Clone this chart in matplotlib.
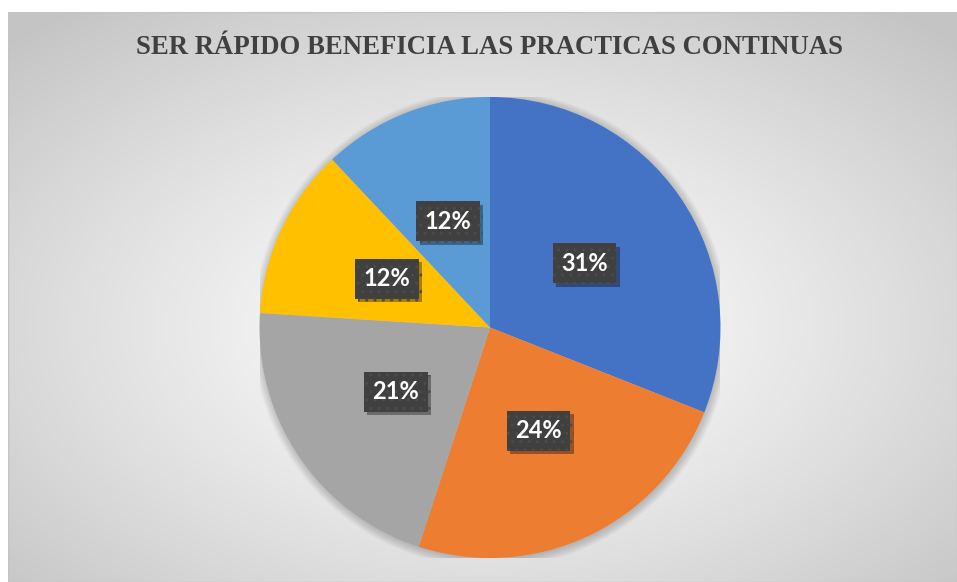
import numpy as np
import matplotlib
matplotlib.use("Agg")
import matplotlib.pyplot as plt
from matplotlib.patches import Circle, Rectangle
import matplotlib.patheffects as pe

title = "SER RÁPIDO BENEFICIA LAS PRACTICAS CONTINUAS"
values = [31, 24, 21, 12, 12]
colors = ["#4472C4", "#ED7D31", "#A5A5A5", "#FFC000", "#5B9BD5"]

W, H = 957, 582
fig = plt.figure(figsize=(W / 100, H / 100), dpi=100)
fig.patch.set_facecolor("white")

# background chart area with radial gradient
bx0, by0 = 8, 12  # left, top in px
bg = fig.add_axes([bx0 / W, 0, (W - bx0) / W, (H - by0) / H])
bg.set_axis_off()
ny, nx = 300, 500
yy, xx = np.mgrid[0:ny, 0:nx]
cx, cy = 0.50 * nx, 0.55 * ny
d = np.sqrt(((xx - cx) / (nx * 0.5)) ** 2 + ((yy - cy) / (ny * 0.5)) ** 2) / np.sqrt(2)
d = np.clip(d, 0, 1)
lo, hi = 1.0, 0.77
val = lo + (hi - lo) * d ** 1.2
img = np.dstack([val, val, val])
bg.imshow(img, extent=[0, 1, 0, 1], aspect="auto", origin="upper", interpolation="bilinear")
bg.set_xlim(0, 1)
bg.set_ylim(0, 1)
bg.add_patch(Rectangle((0, 0), 1, 1, fill=False, edgecolor="#c4c4c4", lw=1.0, transform=bg.transAxes))

fig.text(489 / W, 1 - 47 / H, title, ha="center", va="center",
         fontfamily="Liberation Serif", fontweight="bold", fontsize=19.3, color="#404040")

# pie axes
pcx, pcy, R = 490, 582 - 327.5, 230.5
ax = fig.add_axes([(pcx - R) / W, (pcy - R) / H, 2 * R / W, 2 * R / H])
ax.set_axis_off()

# soft shadow
for i in range(10):
    ax.add_patch(Circle((0.004, -0.006), 1 + 0.004 * i, color="#000000", alpha=0.018, lw=0, zorder=0))

wedges, texts, autotexts = ax.pie(values, colors=colors, startangle=90, counterclock=False,
                                  radius=1, autopct="%d%%", pctdistance=0.495,
                                  wedgeprops=dict(linewidth=0),
                                  textprops=dict(color="white", fontweight="bold", fontsize=17,
                                                 fontfamily="Lato"))
ax.set_xlim(-1, 1)
ax.set_ylim(-1, 1)
for w in wedges:
    w.set_zorder(1)
for t in autotexts:
    t.set_zorder(5)
    t.set_bbox(dict(boxstyle="square,pad=0.36", facecolor="#404040", edgecolor="#4b4b4b",
                    linewidth=0, hatch=".."))
    t.get_bbox_patch().set_path_effects([
        pe.SimplePatchShadow(offset=(2.5, -2.5), shadow_rgbFace="black", alpha=0.35),
        pe.Normal()])

fig.savefig("out.png", dpi=100)
